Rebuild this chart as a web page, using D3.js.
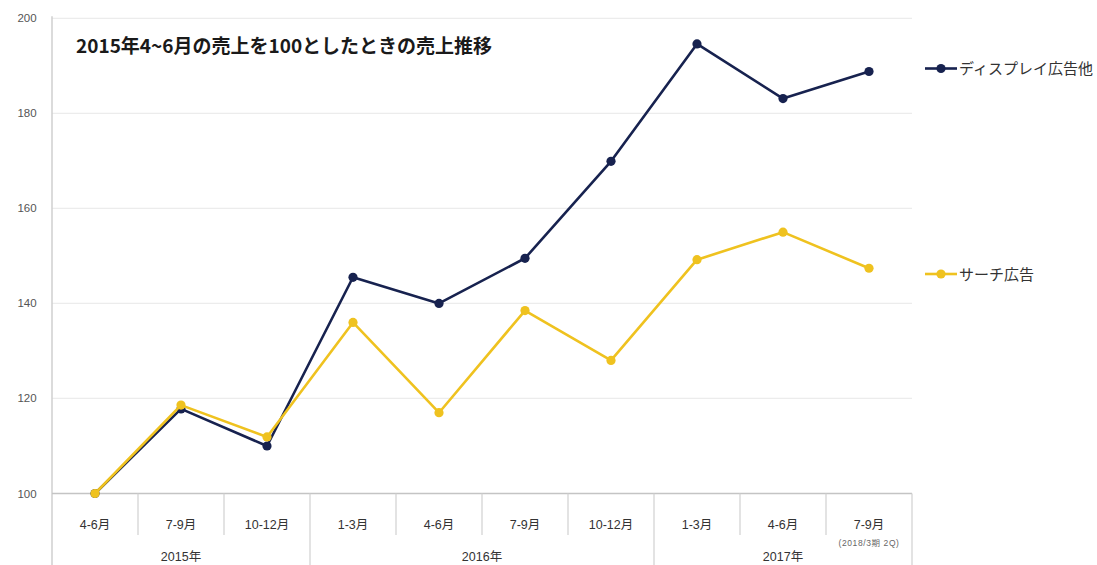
<!DOCTYPE html>
<html>
<head>
<meta charset="utf-8">
<script src="https://cdn.jsdelivr.net/npm/d3@7"></script>
<style>
  html, body { margin: 0; padding: 0; background: #fff; }
  svg { display: block; font-family: "Liberation Sans", "Noto Sans CJK JP", sans-serif; }
</style>
</head>
<body>
<svg id="chart" width="1097" height="565"></svg>
<script>
// Quarterly sales index (2015 Apr-Jun = 100)
const quarters = ["4-6月", "7-9月", "10-12月", "1-3月", "4-6月", "7-9月", "10-12月", "1-3月", "4-6月", "7-9月"];
const years = [
  { label: "2015年", start: 0, end: 3 },
  { label: "2016年", start: 3, end: 7 },
  { label: "2017年", start: 7, end: 10 }
];
const displayAds = [100, 117.8, 110.0, 145.5, 140.0, 149.5, 169.9, 194.6, 183.1, 188.8];
const searchAds  = [100, 118.6, 111.9, 136.0, 117.0, 138.5, 128.0, 149.2, 155.0, 147.4];
const yTicks = [100, 120, 140, 160, 180, 200];
const seriesNames = ["ディスプレイ広告他", "サーチ広告"];
const titleText = "2015年4~6月の売上を100としたときの売上推移";
const footNote = "(2018/3期 2Q)";

const navy = "#17224f";
const gold = "#efc21f";

const svg = d3.select("#chart");
const plotLeft = 52, plotRight = 912, plotTop = 18.3, plotBottom = 493.5;

const x = d3.scaleBand().domain(d3.range(quarters.length)).range([plotLeft, plotRight]);
const y = d3.scaleLinear().domain([100, 200]).range([plotBottom, plotTop]);

// horizontal gridlines
svg.append("g").selectAll("line")
  .data(yTicks.filter(d => d !== 100))
  .join("line")
  .attr("x1", plotLeft).attr("x2", plotRight)
  .attr("y1", d => y(d)).attr("y2", d => y(d))
  .attr("stroke", "#ececec").attr("stroke-width", 1.2);

// y tick labels
svg.append("g").selectAll("text")
  .data(yTicks)
  .join("text")
  .attr("x", 27).attr("y", d => y(d) + 4)
  .attr("text-anchor", "middle")
  .attr("font-size", 11.5).attr("fill", "#555")
  .text(d => d);

// left axis line
svg.append("line")
  .attr("x1", plotLeft).attr("x2", plotLeft)
  .attr("y1", plotTop - 2).attr("y2", 565)
  .attr("stroke", "#cfcfcf").attr("stroke-width", 1.5);

// baseline
svg.append("line")
  .attr("x1", plotLeft).attr("x2", plotRight)
  .attr("y1", y(100)).attr("y2", y(100))
  .attr("stroke", "#c4c4c4").attr("stroke-width", 1.3);

// quarter separators
const bw = x.bandwidth();
const yearBounds = new Set(years.map(d => d.end));
svg.append("g").selectAll("line")
  .data(d3.range(1, quarters.length + 1))
  .join("line")
  .attr("x1", i => plotLeft + i * bw).attr("x2", i => plotLeft + i * bw)
  .attr("y1", y(100))
  .attr("y2", i => yearBounds.has(i) ? 565 : 535)
  .attr("stroke", "#d0d0d0").attr("stroke-width", 1.2);

// quarter labels
svg.append("g").selectAll("text")
  .data(quarters)
  .join("text")
  .attr("x", (d, i) => x(i) + bw / 2)
  .attr("y", 529)
  .attr("text-anchor", "middle")
  .attr("font-size", 12.5).attr("fill", "#333")
  .text(d => d);

// year labels
svg.append("g").selectAll("text")
  .data(years)
  .join("text")
  .attr("x", d => (x(d.start) + (d.end >= quarters.length ? plotRight : x(d.end))) / 2)
  .attr("y", 561)
  .attr("text-anchor", "middle")
  .attr("font-size", 12.5).attr("fill", "#333")
  .text(d => d.label);

// note under the last quarter
svg.append("text")
  .attr("x", x(quarters.length - 1) + bw / 2)
  .attr("y", 546)
  .attr("text-anchor", "middle")
  .attr("font-size", 8.5).attr("letter-spacing", 0.6).attr("fill", "#666")
  .text(footNote);

// title
svg.append("text")
  .attr("x", 76).attr("y", 53)
  .attr("font-family", "Noto Sans CJK JP, sans-serif")
  .attr("font-size", 19).attr("font-weight", "bold").attr("fill", "#1a1a1a")
  .text(titleText);

// series lines and markers (search drawn above display)
const line = d3.line()
  .x((d, i) => x(i) + bw / 2)
  .y(d => y(d));

const series = [
  { name: seriesNames[0], values: displayAds, color: navy },
  { name: seriesNames[1], values: searchAds, color: gold }
];

series.forEach(s => {
  svg.append("path")
    .datum(s.values)
    .attr("d", line)
    .attr("fill", "none")
    .attr("stroke", s.color)
    .attr("stroke-width", 2.6)
    .attr("stroke-linejoin", "round");
  svg.append("g").selectAll("circle")
    .data(s.values)
    .join("circle")
    .attr("cx", (d, i) => x(i) + bw / 2)
    .attr("cy", d => y(d))
    .attr("r", 4.6)
    .attr("fill", s.color);
});

// legend placed beside the final values
const legend = [
  { name: seriesNames[0], color: navy, ly: 68.5 },
  { name: seriesNames[1], color: gold, ly: 274 }
];
const lg = svg.append("g").selectAll("g").data(legend).join("g");
lg.append("line")
  .attr("x1", 925).attr("x2", 957)
  .attr("y1", d => d.ly).attr("y2", d => d.ly)
  .attr("stroke", d => d.color).attr("stroke-width", 2.6);
lg.append("circle")
  .attr("cx", 941).attr("cy", d => d.ly).attr("r", 4.6)
  .attr("fill", d => d.color);
lg.append("text")
  .attr("x", 959).attr("y", d => d.ly + 5.5)
  .attr("font-family", "Noto Sans CJK JP, sans-serif")
  .attr("font-size", 15).attr("fill", "#333")
  .text(d => d.name);
</script>
</body>
</html>
